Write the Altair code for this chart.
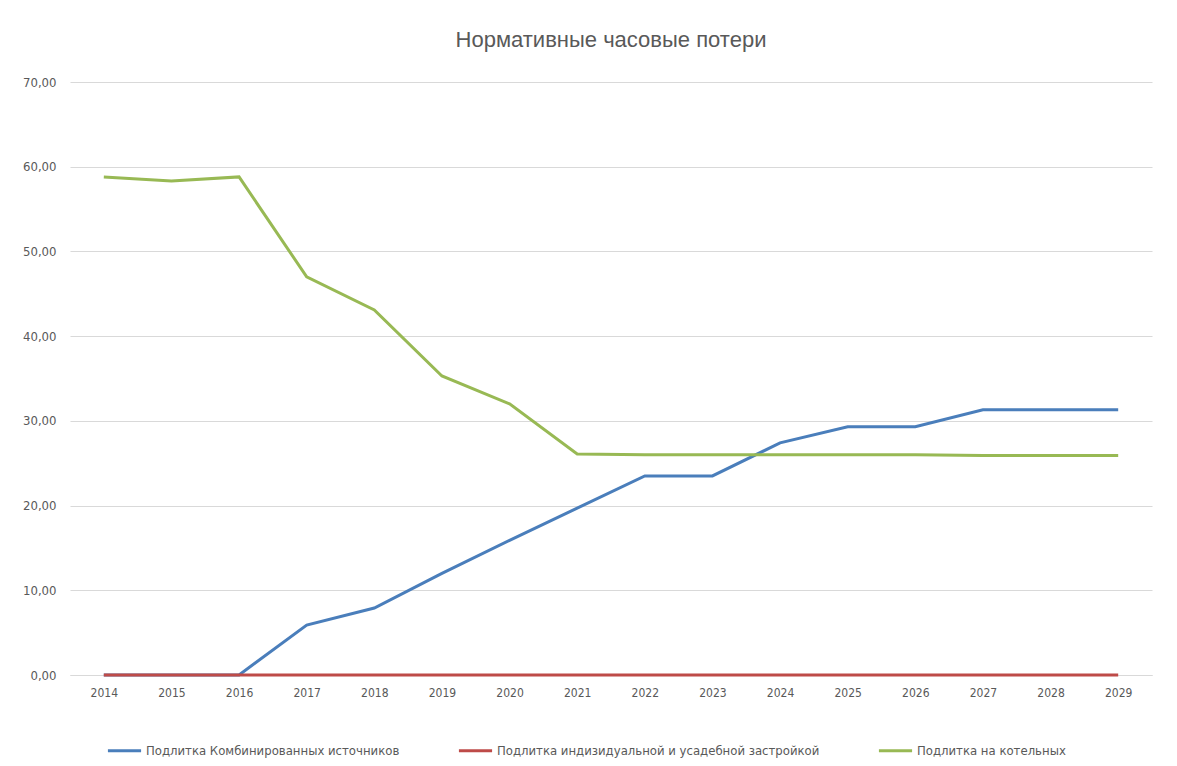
import altair as alt
import pandas as pd

years = [str(y) for y in range(2014, 2030)]
series_names = [
    "Подлитка Комбинированных источников",
    "Подлитка индизидуальной и усадебной застройкой",
    "Подлитка на котельных",
]
combined = [0.0, 0.0, 0.0, 5.9, 7.9, 12.0, 15.9, 19.7, 23.5, 23.5, 27.4, 29.3, 29.3, 31.3, 31.3, 31.3]
individual = [0.0] * 16
boilers = [58.8, 58.3, 58.8, 47.0, 43.1, 35.3, 32.0, 26.1, 26.0, 26.0, 26.0, 26.0, 26.0, 25.9, 25.9, 25.9]
colors = ["#4A7EBB", "#BE4B48", "#98B954"]

rows = []
for name, vals in zip(series_names, [combined, individual, boilers]):
    for y, v in zip(years, vals):
        rows.append({"year": y, "value": v, "series": name})
df = pd.DataFrame(rows)

font = "Liberation Sans Narrow, DejaVu Sans Condensed, Liberation Sans, sans-serif"

chart = (
    alt.Chart(df)
    .mark_line(strokeWidth=3)
    .encode(
        x=alt.X(
            "year:N",
            sort=years,
            title=None,
            scale=alt.Scale(paddingInner=0, paddingOuter=0.5),
            axis=alt.Axis(
                labelAngle=0, ticks=False, domain=True, domainColor="#d9d9d9",
                labelColor="#595959", labelFontSize=12, labelFont=font, labelPadding=12,
                grid=False,
            ),
        ),
        y=alt.Y(
            "value:Q",
            title=None,
            scale=alt.Scale(domain=[0, 70], nice=False),
            axis=alt.Axis(
                values=[0, 10, 20, 30, 40, 50, 60, 70],
                labelExpr="replace(format(datum.value, '.2f'), '.', ',')",
                ticks=False, domain=False, grid=True, gridColor="#d9d9d9",
                labelColor="#595959", labelFontSize=13, labelFont=font, labelPadding=14,
            ),
        ),
        color=alt.Color(
            "series:N",
            sort=series_names,
            scale=alt.Scale(domain=series_names, range=colors),
            legend=alt.Legend(
                title=None, orient="none", direction="horizontal", columns=3,
                legendX=36, legendY=650, symbolType="stroke", symbolSize=1100,
                symbolStrokeWidth=3, labelColor="#595959", labelFontSize=13,
                labelFont=font, columnPadding=52, labelOffset=3, labelLimit=0,
            ),
        ),
        order=alt.Order("year:N"),
    )
    .properties(
        width=1082,
        height=593,
        background="white",
        padding={"left": 62, "top": 74, "right": 10, "bottom": 85},
        autosize=alt.AutoSizeParams(type="none"),
        title=alt.TitleParams(
            "Нормативные часовые потери", fontSize=22, font="Liberation Sans, sans-serif",
            fontWeight="normal", color="#595959", anchor="middle", offset=24,
        ),
    )
    .configure_view(stroke="transparent", strokeWidth=0)
)

chart.save("out.html", embed_options={"renderer": "svg", "actions": False})
